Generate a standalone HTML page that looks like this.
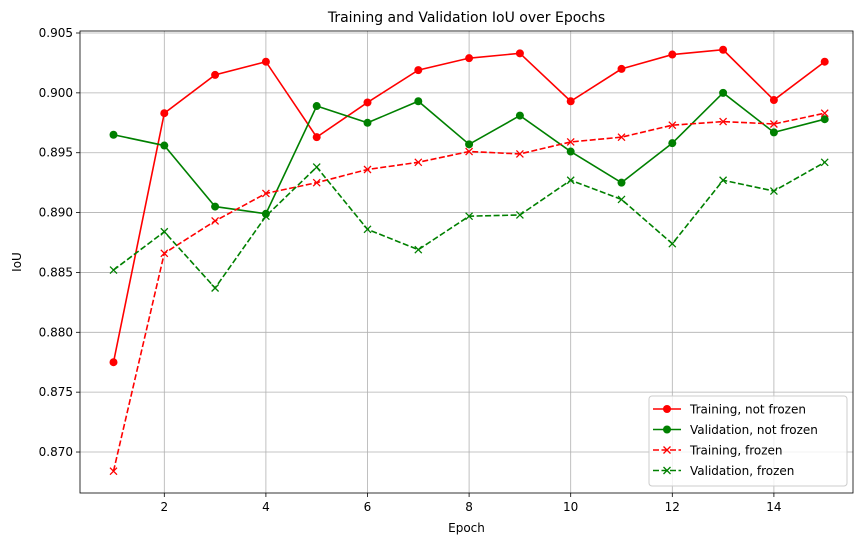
<!DOCTYPE html>
<html><head><meta charset="utf-8"><style>
body{margin:0;background:#fff;font-family:"Liberation Sans","DejaVu Sans",sans-serif}
svg text{font-family:"DejaVu Sans","Liberation Sans",sans-serif}
</style></head><body>
<svg id="c" width="864" height="545" xmlns="http://www.w3.org/2000/svg"></svg>
<script>
const epochs=[1,2,3,4,5,6,7,8,9,10,11,12,13,14,15];
const trainNotFrozen=[0.8775,0.8983,0.9015,0.9026,0.8963,0.8992,0.9019,0.9029,0.9033,0.8993,0.9020,0.9032,0.9036,0.8994,0.9026];
const valNotFrozen=[0.8965,0.8956,0.8905,0.8899,0.8989,0.8975,0.8993,0.8957,0.8981,0.8951,0.8925,0.8958,0.9000,0.8967,0.8978];
const trainFrozen=[0.8684,0.8866,0.8893,0.8916,0.8925,0.8936,0.8942,0.8951,0.8949,0.8959,0.8963,0.8973,0.8976,0.8974,0.8983];
const valFrozen=[0.8852,0.8884,0.8837,0.8897,0.8938,0.8886,0.8869,0.8897,0.8898,0.8927,0.8911,0.8874,0.8927,0.8918,0.8942];
const xTicks=[2,4,6,8,10,12,14];
const yTicks=[0.870,0.875,0.880,0.885,0.890,0.895,0.900,0.905];
const L=80,R=853,T=31,B=493;
const x=v=>113.5+(v-1)*50.8;
const y=v=>33+(0.905-v)/0.005*59.86;
const svg=document.getElementById('c');const NS='http://www.w3.org/2000/svg';
function mk(t,a,p){const e=document.createElementNS(NS,t);for(const k in a)e.setAttribute(k,a[k]);(p||svg).appendChild(e);return e;}
const grid=mk('g',{});


xTicks.forEach(t=>{mk('line',{x1:x(t),x2:x(t),y1:T,y2:B,stroke:'#b0b0b0','stroke-width':0.8},grid);
 mk('line',{x1:x(t),x2:x(t),y1:B,y2:B+4,stroke:'#000','stroke-width':0.8});
 const tx=mk('text',{x:x(t),y:B+18,'text-anchor':'middle','font-size':12});tx.textContent=t;
 
 });
yTicks.forEach(t=>{mk('line',{x1:L,x2:R,y1:y(t),y2:y(t),stroke:'#b0b0b0','stroke-width':0.8},grid);
 mk('line',{x1:L-4,x2:L,y1:y(t),y2:y(t),stroke:'#000','stroke-width':0.8});
 const tx=mk('text',{x:L-7,y:y(t)+4,'text-anchor':'end','font-size':12});tx.textContent=t.toFixed(3);
 
 });
function series(vals,color,dash,marker,name){
 const g=mk('g',{});
 
 
 mk('polyline',{points:vals.map((v,i)=>x(epochs[i])+','+y(v)).join(' '),fill:'none',stroke:color,'stroke-width':1.6,'stroke-dasharray':dash?'6,2.5':'none'},g);
 vals.forEach((v,i)=>{const cx=x(epochs[i]),cy=y(v);
  if(marker==='o')mk('circle',{cx,cy,r:4,fill:color},g);
  else{mk('path',{d:`M${cx-3.5},${cy-3.5}L${cx+3.5},${cy+3.5}M${cx-3.5},${cy+3.5}L${cx+3.5},${cy-3.5}`,stroke:color,'stroke-width':1.3},g);}});
}
series(trainNotFrozen,'#ff0000',false,'o','training-not-frozen-line');
series(valNotFrozen,'#008000',false,'o','validation-not-frozen-line');
series(trainFrozen,'#ff0000',true,'x','training-frozen-line');
series(valFrozen,'#008000',true,'x','validation-frozen-line');
mk('rect',{x:L,y:T,width:R-L,height:B-T,fill:'none',stroke:'#000','stroke-width':0.8});
let t=mk('text',{x:(L+R)/2,y:22,'text-anchor':'middle','font-size':14});t.textContent='Training and Validation IoU over Epochs';

t=mk('text',{x:(L+R)/2,y:532,'text-anchor':'middle','font-size':12});t.textContent='Epoch';

t=mk('text',{x:21,y:(T+B)/2,'text-anchor':'middle','font-size':12,transform:`rotate(-90 21 ${(T+B)/2})`});t.textContent='IoU';

const lg=mk('g',{});


mk('rect',{x:649,y:396,width:198,height:90,rx:3,fill:'#fff','fill-opacity':0.8,stroke:'#ccc'},lg);
const items=[['Training, not frozen','#ff0000',false,'o'],['Validation, not frozen','#008000',false,'o'],['Training, frozen','#ff0000',true,'x'],['Validation, frozen','#008000',true,'x']];
items.forEach((it,i)=>{const yy=409+i*20.5;
 mk('line',{x1:653,x2:681,y1:yy,y2:yy,stroke:it[1],'stroke-width':1.6,'stroke-dasharray':it[2]?'6,2.5':'none'},lg);
 if(it[3]==='o')mk('circle',{cx:667,cy:yy,r:4,fill:it[1]},lg);
 else mk('path',{d:`M663.5,${yy-3.5}L670.5,${yy+3.5}M663.5,${yy+3.5}L670.5,${yy-3.5}`,stroke:it[1],'stroke-width':1.3},lg);
 const tx=mk('text',{x:690,y:yy+4.5,'font-size':12},lg);tx.textContent=it[0];
 
 });
</script>
</body></html>
